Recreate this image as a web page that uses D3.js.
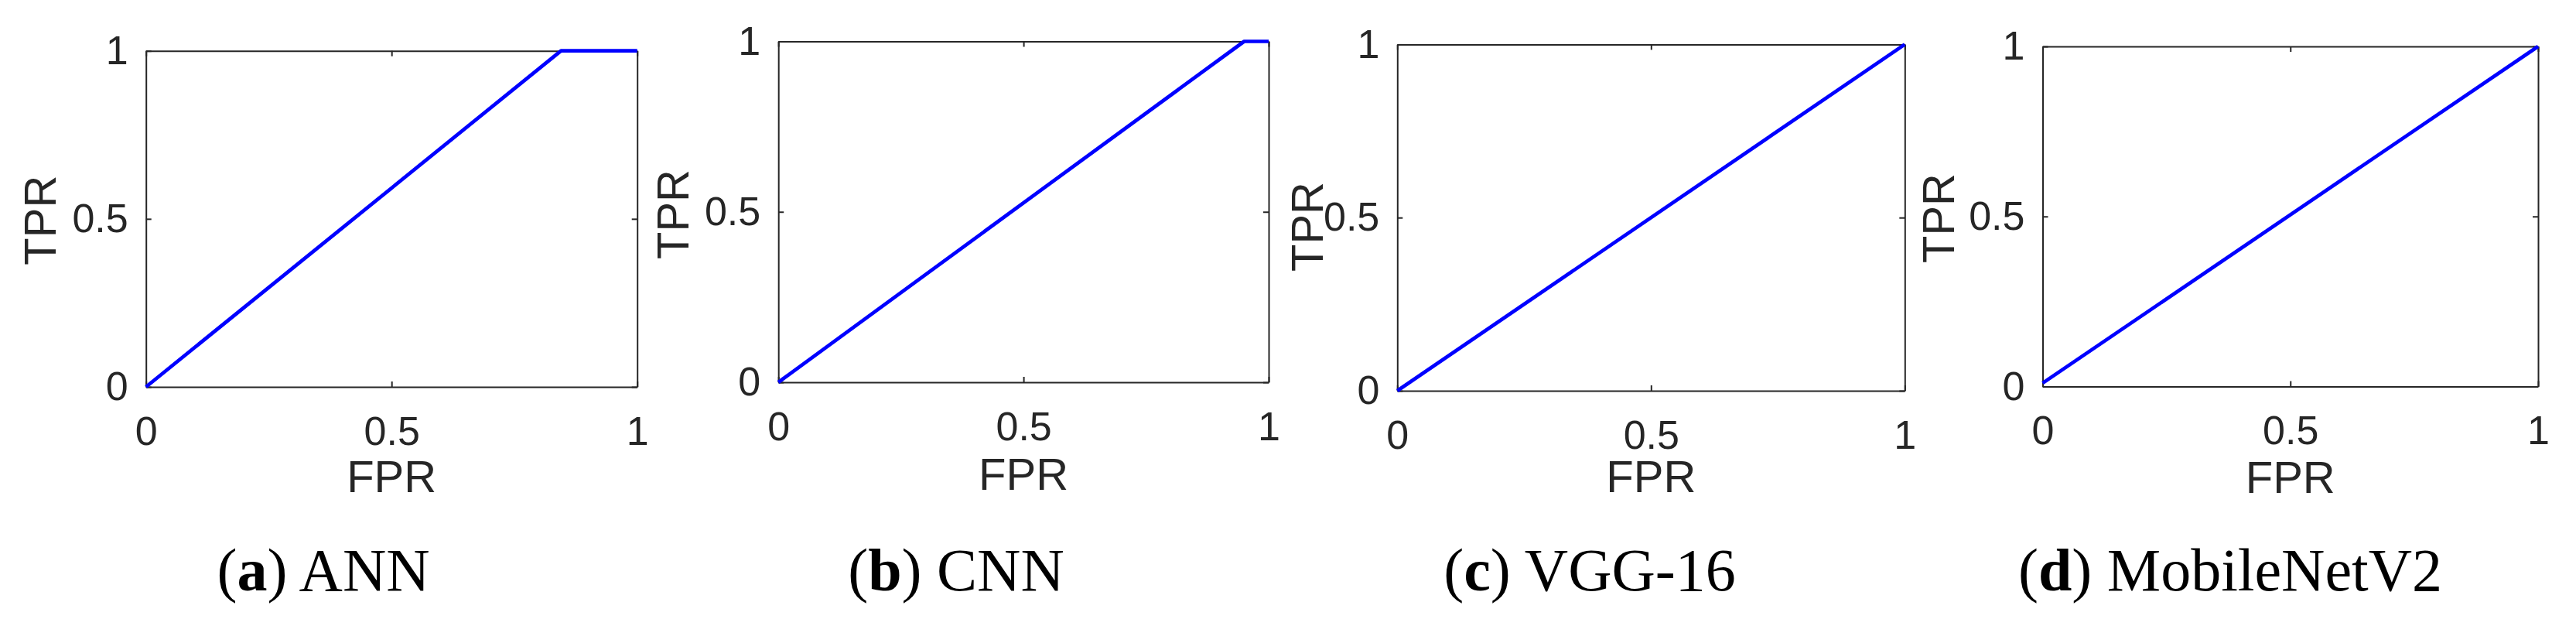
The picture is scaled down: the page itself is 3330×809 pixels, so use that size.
<!DOCTYPE html>
<meta charset="utf-8">
<script src="https://d3js.org/d3.v7.min.js"></script>
<style>
    body { margin: 0; background: #fff; }
    .tick text { font-family: "Liberation Sans", Arial, sans-serif; font-size: 52px; fill: #262626; }
    .tick line { stroke: #262626; stroke-width: 2; }
    .domain { stroke: #262626; stroke-width: 2; }
    .lab { font-family: "Liberation Sans", Arial, sans-serif; font-size: 58px; fill: #262626; }
    .cap { font-family: "Liberation Serif", "Times New Roman", serif; font-size: 78px; fill: #000; }
</style>
<div id="vis"></div>
<script>
    // ROC points
    var annFpr = [0, 0.845, 1],  annTpr = [0, 1, 1];
    var cnnFpr = [0, 0.95, 1],   cnnTpr = [0, 1, 1];
    var vggFpr = [0, 1],         vggTpr = [0, 1];
    var mobFpr = [0, 1],         mobTpr = [0.01, 1];

    var ticks = [0, 0.5, 1];
    var letters = ["a", "b", "c", "d"];
    var names = ["ANN", "CNN", "VGG-16", "MobileNetV2"];

    // where each subplot sits on the page
    var boxes = [
        { l: 188.7, t: 65.7, r: 823.7, b: 500, ylx: 71.7, yly: 284.7, xly: 636, cx: 418 },
        { l: 1006.2, t: 53.5, r: 1640, b: 494, ylx: 890, yly: 277, xly: 633, cx: 1236 },
        { l: 1806.3, t: 57.4, r: 2462.3, b: 505, ylx: 1710, yly: 293, xly: 636, cx: 2055 },
        { l: 2640.5, t: 60, r: 3281, b: 499.5, ylx: 2526, yly: 282, xly: 637, cx: 2883 }
    ];

    var series = [
        d3.zip(annFpr, annTpr),
        d3.zip(cnnFpr, cnnTpr),
        d3.zip(vggFpr, vggTpr),
        d3.zip(mobFpr, mobTpr)
    ];

    var svg = d3.select("#vis").append("svg")
        .attr("width", 3330)
        .attr("height", 809);

    boxes.forEach(function (bx, i) {
        var x = d3.scaleLinear().domain([0, 1]).range([bx.l, bx.r]);
        var y = d3.scaleLinear().domain([0, 1]).range([bx.b, bx.t]);
        var g = svg.append("g");

        // axes, ticks pointing inward, box made of the four domains
        g.append("g")
            .attr("transform", "translate(0," + bx.b + ")")
            .call(d3.axisBottom(x).tickValues(ticks).tickFormat(d3.format("")).tickSizeInner(-7).tickSizeOuter(0).tickPadding(38));
        g.append("g")
            .attr("transform", "translate(" + bx.l + ",0)")
            .call(d3.axisLeft(y).tickValues(ticks).tickFormat(d3.format("")).tickSizeInner(-7).tickSizeOuter(0).tickPadding(23));
        g.append("g")
            .attr("transform", "translate(0," + bx.t + ")")
            .call(d3.axisTop(x).tickValues(ticks).tickFormat("").tickSizeInner(-7).tickSizeOuter(0));
        g.append("g")
            .attr("transform", "translate(" + bx.r + ",0)")
            .call(d3.axisRight(y).tickValues(ticks).tickFormat("").tickSizeInner(-7).tickSizeOuter(0));

        // roc curve
        g.append("path")
            .datum(series[i])
            .attr("fill", "none")
            .attr("stroke", "#0000ff")
            .attr("stroke-width", 4.7)
            .attr("stroke-linejoin", "round")
            .attr("d", d3.line().x(function (d) { return x(d[0]); }).y(function (d) { return y(d[1]); }));

        // axis labels
        g.append("text")
            .attr("class", "lab")
            .attr("x", (bx.l + bx.r) / 2)
            .attr("y", bx.xly)
            .attr("text-anchor", "middle")
            .text("FPR");
        g.append("text")
            .attr("class", "lab")
            .attr("transform", "translate(" + bx.ylx + "," + bx.yly + ") rotate(-90)")
            .attr("text-anchor", "middle")
            .text("TPR");

        // caption
        var cap = g.append("text")
            .attr("class", "cap")
            .attr("x", bx.cx)
            .attr("y", 763)
            .attr("text-anchor", "middle");
        cap.append("tspan").text("(");
        cap.append("tspan").attr("font-weight", "bold").text(letters[i]);
        cap.append("tspan").text(") " + names[i]);
    });
</script>
